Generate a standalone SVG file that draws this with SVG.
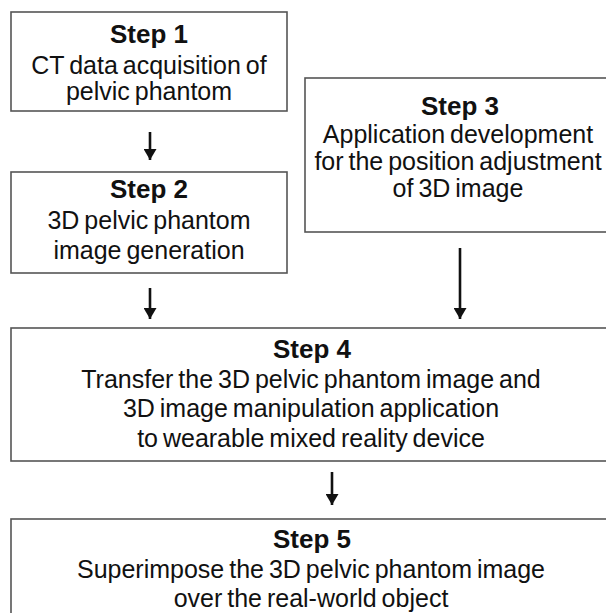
<svg xmlns="http://www.w3.org/2000/svg" width="606" height="613" viewBox="0 0 606 613">
  <style>
    .box { fill: #ffffff; stroke: #555555; stroke-width: 1.6; }
    .title { font-family: "Liberation Sans", Arial, sans-serif; font-weight: bold; font-size: 26px; fill: #111111; text-anchor: middle; }
    .body { font-family: "Liberation Sans", Arial, sans-serif; font-size: 25px; fill: #111111; text-anchor: middle; word-spacing: -2px; }
    .conn { stroke: #111111; stroke-width: 2.6; fill: none; }
  </style>
  <defs>
    <marker id="arrowhead" markerUnits="userSpaceOnUse" markerWidth="14" markerHeight="13" refX="11" refY="6.5" orient="auto">
      <path d="M0,0 L11,6.5 L0,13 Z" fill="#111111"/>
    </marker>
  </defs>
  <rect width="606" height="613" fill="#ffffff"/>

  <g id="step1">
    <rect class="box" x="11" y="12" width="276" height="99"/>
    <text class="title" x="149" y="43">Step 1</text>
    <text class="body" x="149" y="74">CT data acquisition of</text>
    <text class="body" x="149" y="100">pelvic phantom</text>
  </g>

  <g id="step2">
    <rect class="box" x="11" y="172" width="276" height="101"/>
    <text class="title" x="149" y="198">Step 2</text>
    <text class="body" x="149" y="229">3D pelvic phantom</text>
    <text class="body" x="149" y="259">image generation</text>
  </g>

  <g id="step3">
    <rect class="box" x="305" y="78" width="312" height="154"/>
    <text class="title" x="460" y="115">Step 3</text>
    <text class="body" x="458" y="143">Application development</text>
    <text class="body" x="458" y="170">for the position adjustment</text>
    <text class="body" x="458" y="197">of 3D image</text>
  </g>

  <g id="step4">
    <rect class="box" x="11" y="328" width="603" height="133"/>
    <text class="title" x="312" y="358">Step 4</text>
    <text class="body" x="311" y="388">Transfer the 3D pelvic phantom image and</text>
    <text class="body" x="311" y="417">3D image manipulation application</text>
    <text class="body" x="311" y="447">to wearable mixed reality device</text>
  </g>

  <g id="step5">
    <rect class="box" x="11" y="519" width="603" height="110"/>
    <text class="title" x="312" y="548">Step 5</text>
    <text class="body" x="311" y="578">Superimpose the 3D pelvic phantom image</text>
    <text class="body" x="311" y="607">over the real-world object</text>
  </g>

  <g id="connectors">
    <line class="conn" x1="150" y1="132" x2="150" y2="160" marker-end="url(#arrowhead)"/>
    <line class="conn" x1="150" y1="288" x2="150" y2="319" marker-end="url(#arrowhead)"/>
    <line class="conn" x1="460" y1="248" x2="460" y2="319" marker-end="url(#arrowhead)"/>
    <line class="conn" x1="332" y1="472" x2="332" y2="505" marker-end="url(#arrowhead)"/>
  </g>
</svg>
